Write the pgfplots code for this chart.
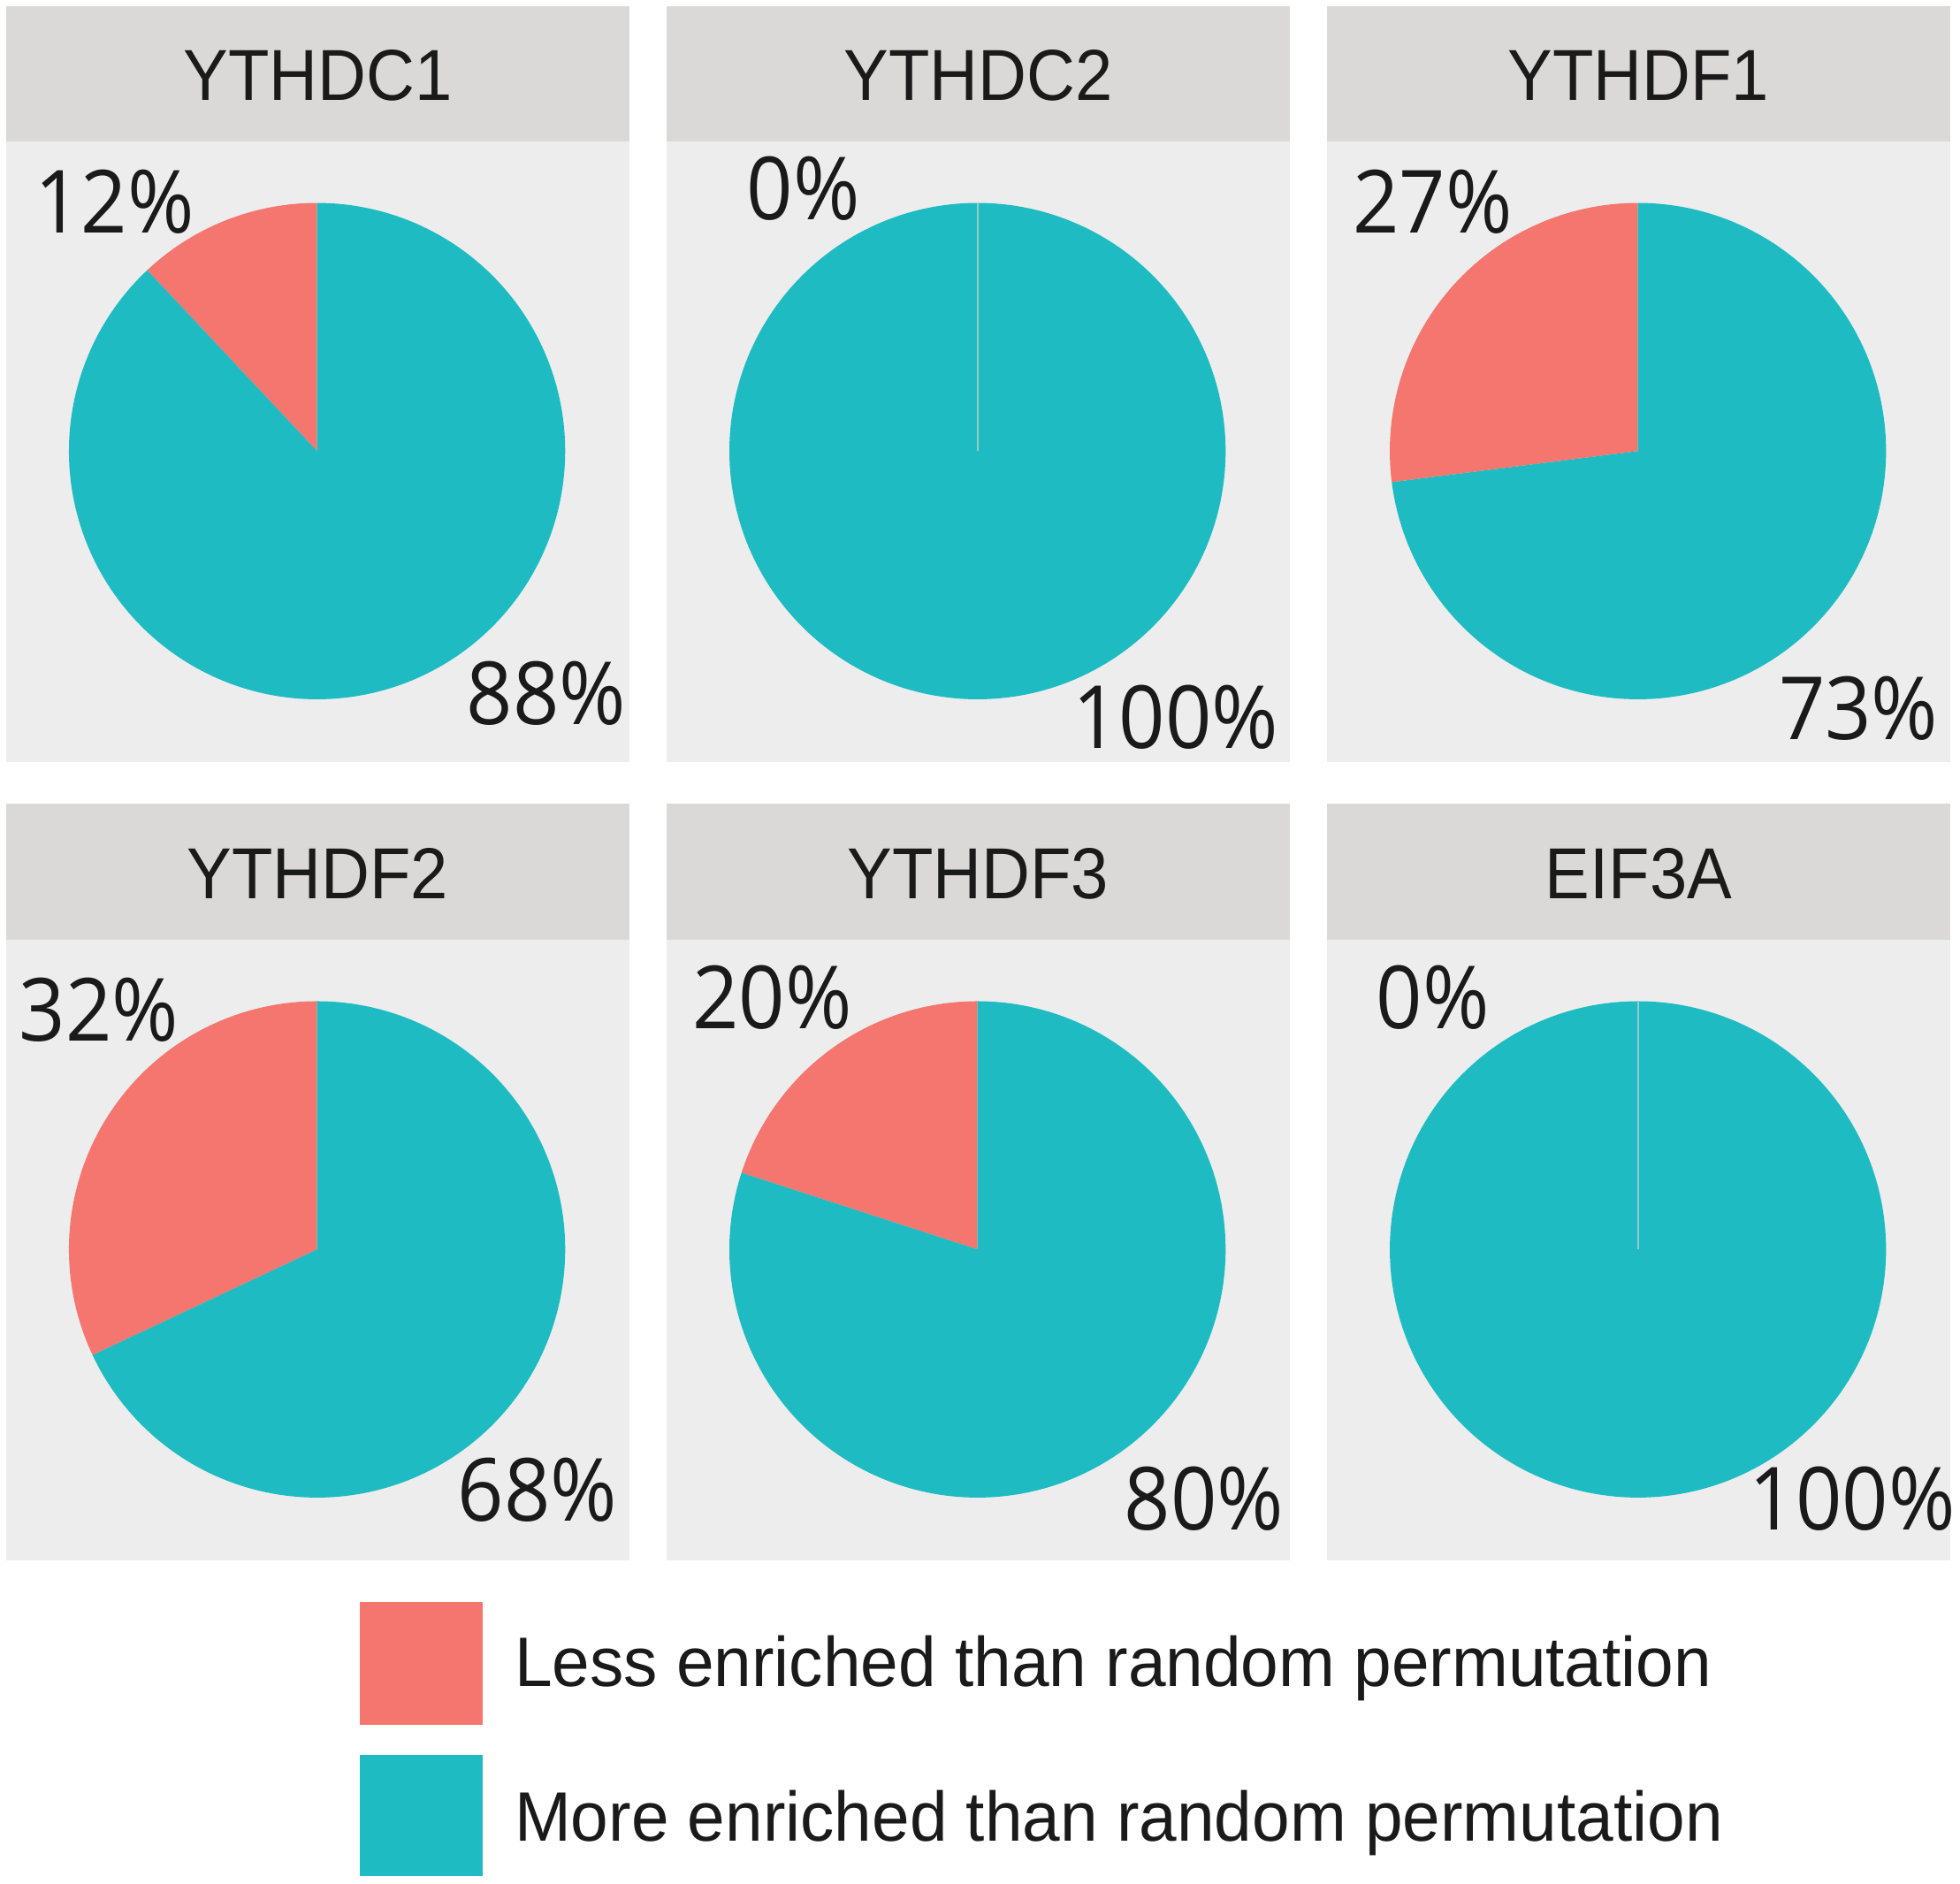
\documentclass[border=0pt]{standalone}
\usepackage{fontspec}
\setmainfont{Liberation Sans}
\newfontfamily\pctfont{Open Sans}
\usepackage{graphicx}
\usepackage{pgfplots}
\pgfplotsset{compat=1.18}
\definecolor{lessc}{HTML}{F4766E}
\definecolor{morec}{HTML}{1EBCC2}
\definecolor{stripc}{HTML}{DAD9D8}
\definecolor{panelc}{HTML}{EDEDED}
\definecolor{zeroc}{HTML}{9FC7C8}
\definecolor{txtc}{HTML}{1A1A1A}
\pgfplotsset{panelaxis/.style={scale only axis, width=49.7mm, height=49.5mm,
  xmin=-1.2525, xmax=1.2576, ymin=-1.2525, ymax=1.247,
  axis line style={draw=none}, ticks=none,
  axis background/.style={fill=panelc}, clip=false, anchor=south west}}
\tikzset{pct/.style={anchor=base, inner sep=0pt, text=txtc, font=\pctfont\fontsize{19.8}{22}\selectfont},
  ttl/.style={anchor=base, inner sep=0pt, text=txtc, font=\fontsize{16.4}{19}\selectfont},
  leg/.style={anchor=base west, inner sep=0pt, text=txtc, font=\fontsize{15.9}{18}\selectfont}}
% #1 left (mm), #2 body bottom (mm), #3 strip height (mm), #4 title,
% #5 less (%), #6 more (%), #7 less label pos, #8 more label pos
\newcommand{\piepanel}[8]{%
  \pgfmathsetmacro{\lessang}{90+3.6*#5}%
  \begin{axis}[panelaxis, at={(#1mm,#2mm)}]
    \ifnum#5>0
      \addplot[draw=none, fill=lessc, domain=90:\lessang, samples=120] ({cos(x)},{sin(x)}) -- (0,0) -- cycle;
    \fi
    \addplot[draw=none, fill=morec, domain=\lessang:450, samples=240] ({cos(x)},{sin(x)}) -- (0,0) -- cycle;
    \ifnum#5=0
      \addplot[draw=zeroc, line width=0.35pt] coordinates {(0,0) (0,1)};
    \fi
    \node[pct] at (#7) {\scalebox{0.93}[1]{#5\%}};
    \node[pct] at (#8) {\scalebox{0.93}[1]{#6\%}};
  \end{axis}
  \fill[stripc] (#1mm,#2mm+49.5mm) rectangle ++(49.7mm,#3mm);
  \node[ttl] at (#1mm+24.85mm,#2mm+49.5mm+3.3mm) {\scalebox{0.93}[1]{#4}};
}
\begin{document}
\begin{tikzpicture}
\path (0,0) rectangle (156.4mm,150.3mm);
\piepanel{0.5}{89.5}{10.8}{YTHDC1}{12}{88}{-0.816,0.879}{0.924,-1.101}
\piepanel{53.2}{89.5}{10.8}{YTHDC2}{0}{100}{-0.702,0.934}{0.798,-1.197}
\piepanel{105.9}{89.5}{10.8}{YTHDF1}{27}{73}{-0.828,0.879}{0.889,-1.162}
\piepanel{0.5}{25.8}{10.9}{YTHDF2}{32}{68}{-0.879,0.838}{0.889,-1.096}
\piepanel{53.2}{25.8}{10.9}{YTHDF3}{20}{80}{-0.828,0.889}{0.914,-1.131}
\piepanel{105.9}{25.8}{10.9}{EIF3A}{0}{100}{-0.826,0.889}{0.864,-1.131}
% legend
\fill[lessc] (28.7mm,12.7mm) rectangle (38.5mm,22.5mm);
\fill[morec] (28.7mm,0.6mm) rectangle (38.5mm,10.3mm);
\node[leg] at (41.0mm,15.7mm) {\scalebox{0.967}[1]{Less enriched than random permutation}};
\node[leg] at (41.0mm,3.4mm) {\scalebox{0.967}[1]{More enriched than random permutation}};
\end{tikzpicture}
\end{document}
